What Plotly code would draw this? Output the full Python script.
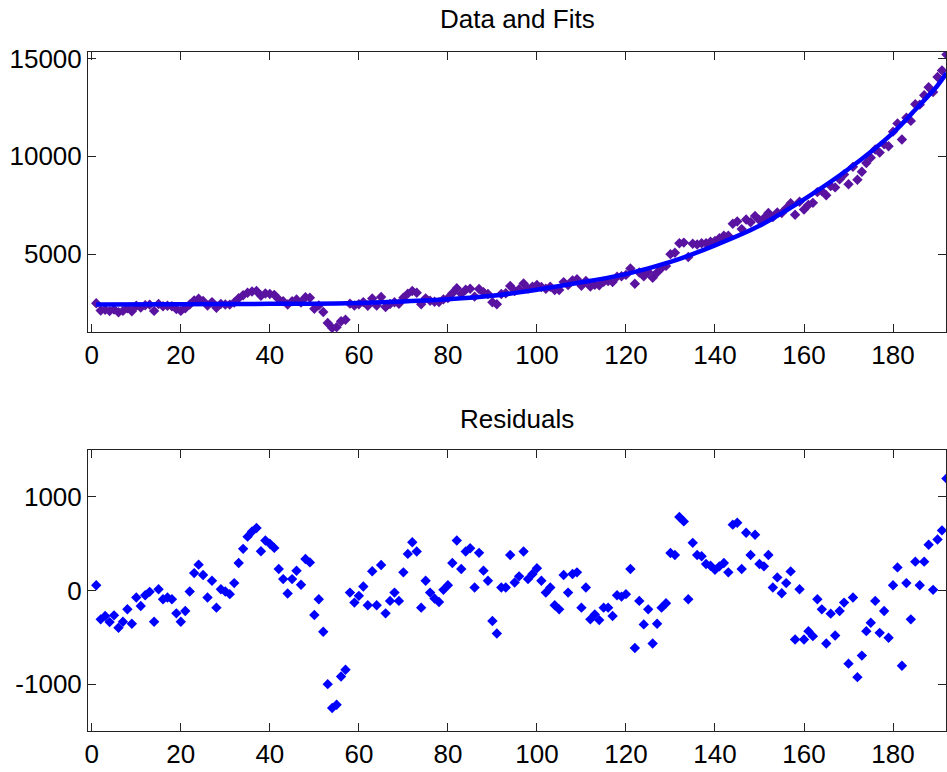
import plotly.graph_objects as go

# sample index, 1..192
days = list(range(1, 193))

# measured values (top panel, purple diamonds)
values = [
    2490, 2120, 2160, 2090, 2170, 2030, 2100, 2230, 2080, 2360,
    2270, 2390, 2420, 2100, 2450, 2340, 2360, 2340, 2190, 2100,
    2230, 2430, 2630, 2720, 2610, 2370, 2550, 2260, 2460, 2430,
    2420, 2530, 2750, 2900, 3030, 3090, 3120, 2870, 2990, 2960,
    2920, 2690, 2590, 2430, 2590, 2680, 2530, 2800, 2770, 2210,
    2380, 2040, 1480, 1230, 1270, 1570, 1650, 2470, 2370, 2440,
    2550, 2360, 2730, 2370, 2810, 2300, 2450, 2540, 2460, 2770,
    2980, 3120, 3030, 2440, 2740, 2620, 2570, 2550, 2690, 2750,
    3000, 3260, 2970, 3180, 3230, 2830, 3220, 3050, 2960, 2540,
    2440, 2960, 3000, 3370, 3110, 3210, 3500, 3240, 3330, 3420,
    3320, 3230, 3330, 3170, 3170, 3570, 3420, 3660, 3720, 3380,
    3630, 3340, 3430, 3410, 3590, 3630, 3580, 3850, 3870, 3940,
    4270, 3490, 4060, 3870, 4090, 3790, 4060, 4290, 4400, 5000,
    5070, 5560, 5590, 4850, 5530, 5490, 5560, 5560, 5630, 5670,
    5810, 5940, 5940, 6550, 6670, 6280, 6770, 6630, 6950, 6730,
    6840, 7100, 6890, 7130, 7100, 7340, 7600, 7010, 7680, 7280,
    7520, 7620, 8170, 8220, 8010, 8480, 8410, 8820, 9070, 8570,
    9460, 8800, 9210, 9660, 9930, 10350, 10190, 10610, 10510, 11260,
    11680, 10860, 11970, 11810, 12660, 12640, 13120, 13530, 13280, 14050,
    14390, 15200,
]

# fitted curve read at a few x positions
fitX = [1, 20, 40, 50, 60, 70, 80, 90, 100, 110, 120, 130, 140, 150, 160, 170, 180, 185, 190, 192]
fitY = [2430, 2440, 2460, 2470, 2500, 2580, 2690, 2870, 3180, 3560, 3980, 4600, 5450, 6450, 7800, 9350, 11200, 12380, 13620, 14250]

# residuals (bottom panel, blue diamonds)
residuals = [
    57, -308, -272, -337, -265, -398, -333, -200, -355, -75,
    -165, -50, -14, -333, 14, -93, -75, -93, -244, -333,
    -219, -11, 186, 276, 165, -75, 104, -183, 14, -11,
    -39, 79, 294, 445, 575, 630, 667, 419, 534, 500,
    455, 229, 122, -32, 122, 211, 61, 337, 300, -262,
    -93, -441, -1000, -1255, -1220, -918, -846, -22, -129, -57,
    43, -158, 205, -158, 272, -244, -111, -22, -111, 194,
    391, 516, 416, -183, 104, -22, -86, -122, 7, 57,
    294, 534, 229, 416, 452, 32, 402, 212, 104, -326,
    -459, 32, 32, 380, 86, 151, 416, 122, 176, 237,
    104, -22, 32, -158, -201, 165, -22, 176, 194, -183,
    32, -308, -255, -316, -183, -183, -272, -50, -65, -39,
    229, -613, -111, -362, -201, -566, -355, -183, -136, 400,
    380, 785, 738, -93, 509, 380, 366, 283, 265, 222,
    258, 294, 194, 703, 724, 229, 617, 380, 595, 283,
    258, 380, 32, 140, -29, 79, 204, -523, 14, -523,
    -434, -487, -93, -201, -566, -247, -480, -219, -129, -781,
    -75, -925, -695, -434, -344, -111, -452, -219, -505, 57,
    247, -803, 79, -308, 308, 57, 308, 488, 7, 545,
    642, 1197,
]

xTicks = [0, 20, 40, 60, 80, 100, 120, 140, 160, 180]
topTicks = [5000, 10000, 15000]
topLabels = ['5000', '10000', '15000']
bottomTicks = [-1000, 0, 1000]
bottomLabels = ['-1000', '0', '1000']

FONT = 'Liberation Sans, Arial, sans-serif'

data = []
data.append(go.Scatter(
    x = days,
    y = values,
    mode = 'markers',
    marker = dict(symbol = 'diamond', size = 8, color = '#5a12a0'),
    xaxis = 'x', yaxis = 'y',
    name = 'data'
))
data.append(go.Scatter(
    x = fitX,
    y = fitY,
    mode = 'lines',
    line = dict(color = '#0000ff', width = 4.5, shape = 'spline', smoothing = 0.8),
    xaxis = 'x', yaxis = 'y',
    name = 'fit'
))
data.append(go.Scatter(
    x = days,
    y = residuals,
    mode = 'markers',
    marker = dict(symbol = 'diamond', size = 8, color = '#0000ff'),
    xaxis = 'x2', yaxis = 'y2',
    name = 'residuals'
))

def axis(**kwargs):
    d = dict(
        showgrid = False,
        zeroline = False,
        showline = True,
        linecolor = '#222222',
        linewidth = 1,
        mirror = 'ticks',
        ticks = 'inside',
        ticklen = 8,
        tickcolor = '#222222',
        automargin = False,
        tickfont = dict(family = FONT, size = 26, color = 'black'),
    )
    d.update(kwargs)
    return d

fig = go.Figure(data = data)
fig.update_layout(
    width = 947,
    height = 772,
    margin = dict(l = 88, r = 1, t = 52, b = 41),
    paper_bgcolor = 'white',
    plot_bgcolor = 'white',
    showlegend = False,
    xaxis = axis(domain = [0, 1], range = [-0.85, 191.9], tickvals = xTicks, anchor = 'y'),
    yaxis = axis(domain = [0.5876, 1], range = [1020, 15330], tickvals = topTicks, ticktext = topLabels, anchor = 'x'),
    xaxis2 = axis(domain = [0, 1], range = [-0.85, 191.9], tickvals = xTicks, anchor = 'y2'),
    yaxis2 = axis(domain = [0, 0.4138], range = [-1500, 1500], tickvals = bottomTicks, ticktext = bottomLabels, anchor = 'x2'),
    annotations = [
        dict(text = 'Data and Fits', x = 0.5, y = 1, xref = 'paper', yref = 'paper',
             xanchor = 'center', yanchor = 'bottom', yshift = 16, showarrow = False,
             font = dict(family = FONT, size = 26, color = 'black')),
        dict(text = 'Residuals', x = 0.5, y = 0.4138, xref = 'paper', yref = 'paper',
             xanchor = 'center', yanchor = 'bottom', yshift = 14, showarrow = False,
             font = dict(family = FONT, size = 26, color = 'black')),
    ]
)

# the page body has a default 8px margin; drop it so the figure sits at 0,0
fig.write_html('out.html', config = dict(displayModeBar = False),
               post_script = "document.body.style.margin = '0'; document.body.style.overflow = 'hidden';")
